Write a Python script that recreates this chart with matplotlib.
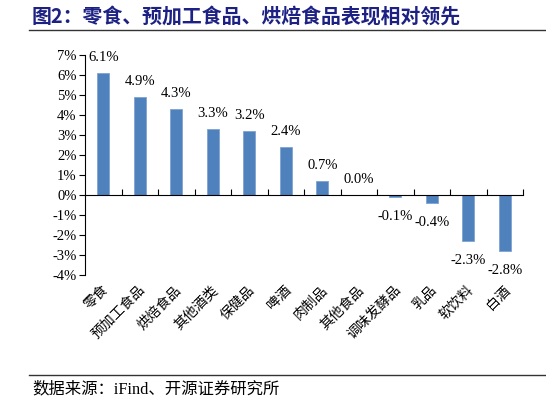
import matplotlib
matplotlib.use("Agg")
import matplotlib.pyplot as plt
import matplotlib.transforms as mtransforms
from matplotlib.lines import Line2D

categories = ["零食", "预加工食品", "烘焙食品", "其他酒类", "保健品", "啤酒",
              "肉制品", "其他食品", "调味发酵品", "乳品", "软饮料", "白酒"]
values = [6.1, 4.9, 4.3, 3.3, 3.2, 2.4, 0.7, 0.0, -0.1, -0.4, -2.3, -2.8]
y_ticks = [-4, -3, -2, -1, 0, 1, 2, 3, 4, 5, 6, 7]

title = "图2：零食、预加工食品、烘焙食品表现相对领先"
source = "数据来源：iFind、开源证券研究所"

SERIF = ["Liberation Serif", "Noto Sans CJK SC"]
CJK = ["Noto Sans CJK SC", "DejaVu Sans"]
BAR = "#4f81bd"

fig = plt.figure(figsize=(5.46, 4.04), dpi=100)
ax = fig.add_axes([85 / 546, 1 - 275 / 404, (523 - 85) / 546, 220 / 404])

x = list(range(len(categories)))
ax.bar(x, values, width=0.34, color=BAR, edgecolor="#7ea3d3", linewidth=0.6, zorder=2)
ax.set_xlim(-0.5, len(categories) - 0.5)
ax.set_ylim(-4, 7)

# value labels
for xi, v in zip(x, values):
    if v >= 0:
        ax.annotate(f"{v:.1f}%", (xi, v), xytext=(0, 11.5), textcoords="offset points",
                    ha="center", va="center", fontsize=10.5, family=SERIF)
    else:
        ax.annotate(f"{v:.1f}%", (xi, v), xytext=(0, -14), textcoords="offset points",
                    ha="center", va="center", fontsize=10.5, family=SERIF)

# y axis
ax.set_yticks(y_ticks)
ax.set_yticklabels([f"{t}%" for t in y_ticks], family=SERIF, fontsize=10.5)
ax.tick_params(axis="y", direction="out", length=4, width=0.8, pad=2)

# x axis at zero, ticks between categories
for s in ["top", "right"]:
    ax.spines[s].set_visible(False)
ax.spines["bottom"].set_position(("data", 0))
ax.spines["left"].set_linewidth(0.8)
ax.spines["bottom"].set_linewidth(0.8)
ax.set_xticks([i + 0.5 for i in range(len(categories))])
ax.set_xticklabels([])
ax.tick_params(axis="x", direction="in", length=4, width=0.8)

# category labels below the plot area
trans = mtransforms.blended_transform_factory(ax.transData, ax.transAxes)
for xi, c in zip(x, categories):
    ax.text(xi - 0.05, -0.035, c, transform=trans, rotation=45, ha="right", va="top",
            rotation_mode="anchor", fontsize=10, family=CJK)

# title, rules and source
fig.text(32 / 546, 1 - 16 / 404, title, ha="left", va="center", fontsize=14.3,
         fontweight="bold", color="#1c2183", family=CJK)
fig.add_artist(Line2D([29 / 546, 1], [1 - 30 / 404] * 2, color="#333333", lw=1.0))
fig.add_artist(Line2D([29 / 546, 1], [1 - 375 / 404] * 2, color="#333333", lw=1.0))
fig.text(32 / 546, 1 - 389 / 404, source, ha="left", va="center", fontsize=11.8,
         family=SERIF)

fig.savefig("out.png", dpi=100)
